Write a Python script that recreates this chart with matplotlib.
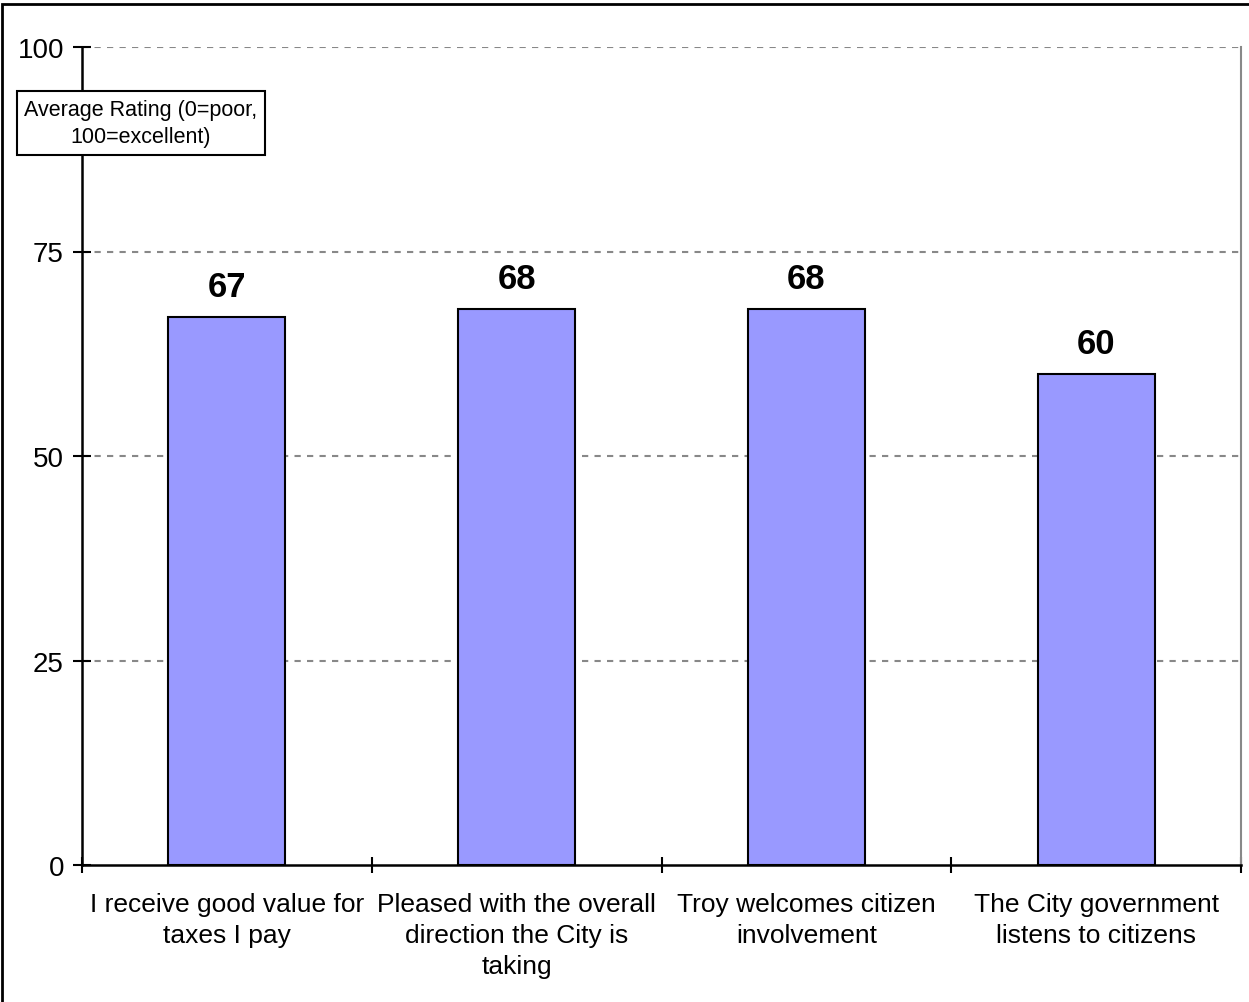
import matplotlib
matplotlib.use("Agg")
import matplotlib.pyplot as plt
from matplotlib.patches import Rectangle

plt.rcParams['font.family'] = ['Liberation Sans', 'DejaVu Sans']

categories = ["I receive good value for\ntaxes I pay",
              "Pleased with the overall\ndirection the City is\ntaking",
              "Troy welcomes citizen\ninvolvement",
              "The City government\nlistens to citizens"]
values = [67, 68, 68, 60]
yticks = [0, 25, 50, 75, 100]

W, H = 1249, 1003
fig = plt.figure(figsize=(W/100, H/100), dpi=100)
ax = fig.add_axes([82/W, 1-866/H, (1241-82)/W, (866-48)/H])

x = list(range(len(categories)))
bars = ax.bar(x, values, width=0.404, color='#9999FF', edgecolor='black', linewidth=1.5, zorder=3)
for xi, v in zip(x, values):
    ax.annotate(str(v), (xi, v), xytext=(0, 15), textcoords='offset points',
                ha='center', va='baseline', fontsize=25, fontweight='bold')

ax.set_xlim(-0.5, len(categories) - 0.5)
ax.set_ylim(0, 100)
ax.set_yticks(yticks)
ax.set_yticklabels([str(t) for t in yticks], fontsize=20)
ax.tick_params(axis='y', direction='inout', length=13, width=1.5, pad=6.5)

# category boundary ticks
ax.set_xticks([i - 0.5 for i in range(len(categories) + 1)])
ax.set_xticklabels([])
ax.tick_params(axis='x', direction='inout', length=12, width=1.5)
for xi, lab in zip(x, categories):
    ax.text(xi, -3.3, lab, ha='center', va='top', fontsize=19, transform=ax.transData, linespacing=1.38)

for yv in yticks[1:]:
    ax.axhline(yv, color='#888888', linestyle=(0, (3, 3)), linewidth=1.5, zorder=1)

ax.spines['left'].set_linewidth(1.8)
ax.spines['bottom'].set_linewidth(1.8)
ax.spines['top'].set_visible(False)
ax.spines['right'].set_color('#888888')
ax.spines['right'].set_linewidth(1.5)

fig.text(141/W, 1-124/H, "Average Rating (0=poor,\n100=excellent)", ha='center', va='center',
         fontsize=15.5, linespacing=1.4,
         bbox=dict(boxstyle='square,pad=0.36', facecolor='white', edgecolor='black', linewidth=1.5),
         zorder=10)

fig.patches.append(Rectangle((2/W, -0.1), 1.2, 1 - 5/H + 0.1, transform=fig.transFigure,
                             fill=False, edgecolor='black', linewidth=2))

fig.savefig("out.png", dpi=100)
